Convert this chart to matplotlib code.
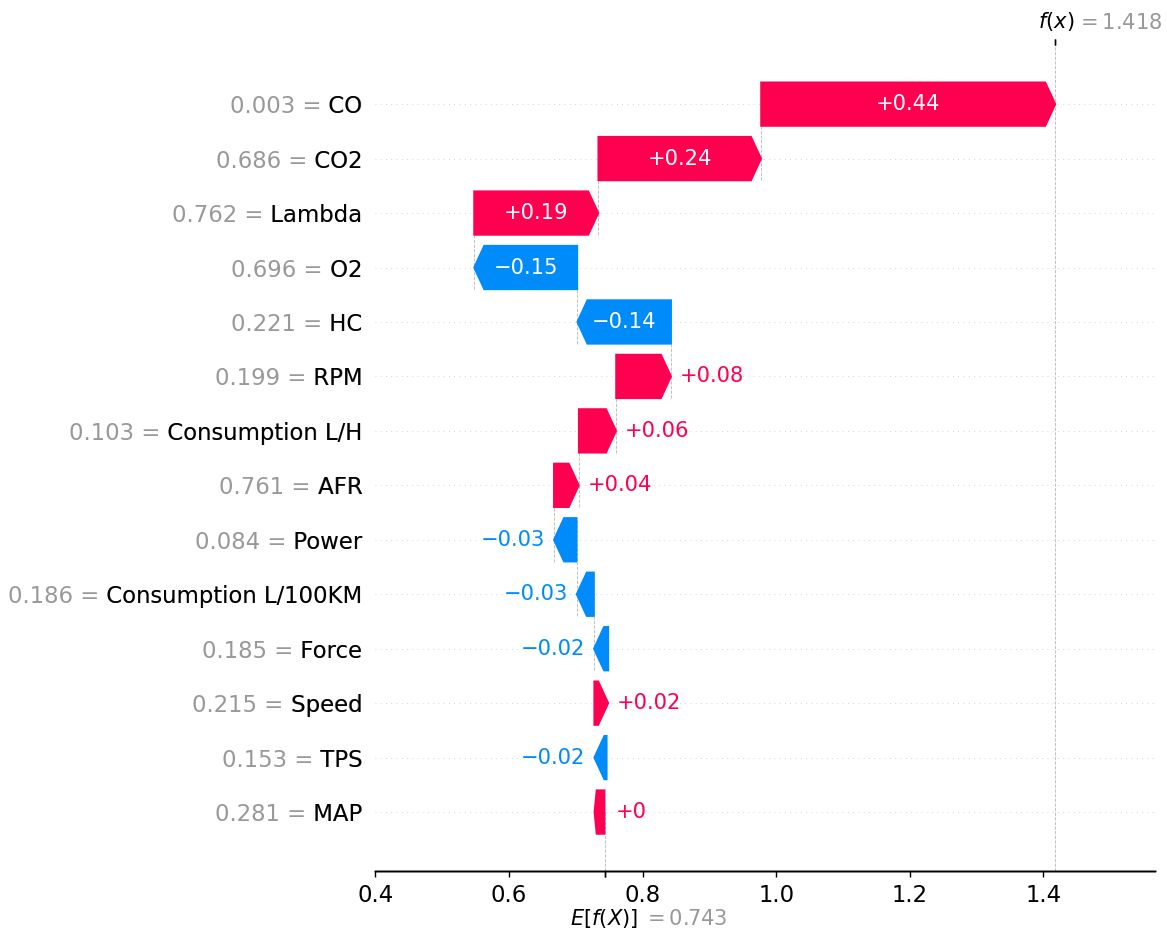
import re
import numpy as np
import matplotlib
matplotlib.use("Agg")
import matplotlib.pyplot as plt
import matplotlib.transforms as mtransforms

# Model explanation for a single engine sample
feature_names = ["CO", "CO2", "Lambda", "O2", "HC", "RPM", "Consumption L/H", "AFR",
                 "Power", "Consumption L/100KM", "Force", "Speed", "TPS", "MAP"]
feature_values = [0.003, 0.686, 0.762, 0.696, 0.221, 0.199, 0.103, 0.761,
                  0.084, 0.186, 0.185, 0.215, 0.153, 0.281]
contributions = [0.4406, 0.2437, 0.1860, -0.1545, -0.1404, 0.0823, 0.0558, 0.0373,
                 -0.0340, -0.0259, -0.0215, 0.0210, -0.0186, 0.0032]
base_value = 0.743

RED = (1.0, 0.0, 0.31796406)
BLUE = (0.0, 0.54337757, 0.98337906)


def format_value(s, fmt):
    s = fmt % s
    s = re.sub(r"\.?0+$", "", s)
    if s[0] == "-":
        s = "\u2212" + s[1:]
    return s


DPI = 126
fig = plt.figure(figsize=(1167 / DPI, 933 / DPI), dpi=DPI)
ax = fig.add_axes([0.3211, 0.066, 0.6684, 0.886])

values = np.array(contributions)
n = len(values)
order = np.argsort(-np.abs(values), kind="stable")
rng = list(range(n - 1, -1, -1))

pos_lefts, pos_inds, pos_widths = [], [], []
neg_lefts, neg_inds, neg_widths = [], [], []
fx = base_value + values.sum()
loc = fx
yticklabels = ["" for _ in range(n + 1)]

for i in range(n):
    sval = values[order[i]]
    loc -= sval
    if sval >= 0:
        pos_inds.append(rng[i])
        pos_widths.append(sval)
        pos_lefts.append(loc)
    else:
        neg_inds.append(rng[i])
        neg_widths.append(sval)
        neg_lefts.append(loc)
    if i + 4 < n:
        ax.plot([loc, loc], [rng[i] - 1 - 0.4, rng[i] + 0.4],
                color="#bbbbbb", linestyle="--", linewidth=0.5, zorder=-1)
    yticklabels[rng[i]] = (format_value(feature_values[order[i]], "%0.03f")
                           + " = " + feature_names[order[i]])

points = (pos_lefts + list(np.array(pos_lefts) + np.array(pos_widths))
          + neg_lefts + list(np.array(neg_lefts) + np.array(neg_widths)))
dataw = np.max(points) - np.min(points)

# invisible bars that size the axes
pad = np.array([0.1 * dataw if w < 1 else 0 for w in pos_widths])
ax.barh(pos_inds, np.array(pos_widths) + pad + 0.02 * dataw,
        left=np.array(pos_lefts) - 0.01 * dataw, color=RED, alpha=0)
pad = np.array([-0.1 * dataw if -w < 1 else 0 for w in neg_widths])
ax.barh(neg_inds, np.array(neg_widths) + pad - 0.02 * dataw,
        left=np.array(neg_lefts) + 0.01 * dataw, color=BLUE, alpha=0)

head_length = 0.08
bar_width = 0.8
xlen = ax.get_xlim()[1] - ax.get_xlim()[0]
bbox = ax.get_window_extent().transformed(fig.dpi_scale_trans.inverted())
bbox_to_xscale = xlen / bbox.width
hl_scaled = bbox_to_xscale * head_length
renderer = fig.canvas.get_renderer()

for i in range(len(pos_inds)):
    dist = pos_widths[i]
    arrow = ax.arrow(pos_lefts[i], pos_inds[i], dist - hl_scaled, 0,
                     head_length=min(dist, hl_scaled), color=RED,
                     width=bar_width, head_width=bar_width)
    txt = ax.text(pos_lefts[i] + 0.5 * dist, pos_inds[i], format_value(dist, "%+0.02f"),
                  ha="center", va="center", color="white", fontsize=12)
    if txt.get_window_extent(renderer=renderer).width > arrow.get_window_extent(renderer=renderer).width:
        txt.remove()
        ax.text(pos_lefts[i] + (5 / 72) * bbox_to_xscale + dist, pos_inds[i],
                format_value(dist, "%+0.02f"), ha="left", va="center",
                color=RED, fontsize=12)

for i in range(len(neg_inds)):
    dist = neg_widths[i]
    arrow = ax.arrow(neg_lefts[i], neg_inds[i], dist + hl_scaled, 0,
                     head_length=min(-dist, hl_scaled), color=BLUE,
                     width=bar_width, head_width=bar_width)
    txt = ax.text(neg_lefts[i] + 0.5 * dist, neg_inds[i], format_value(dist, "%+0.02f"),
                  ha="center", va="center", color="white", fontsize=12)
    if txt.get_window_extent(renderer=renderer).width > arrow.get_window_extent(renderer=renderer).width:
        txt.remove()
        ax.text(neg_lefts[i] - (5 / 72) * bbox_to_xscale + dist, neg_inds[i],
                format_value(dist, "%+0.02f"), ha="right", va="center",
                color=BLUE, fontsize=12)

# feature labels: gray "value = name", then the name again in black on top
ytick_pos = list(range(n)) + list(np.arange(n) + 1e-8)
ax.set_yticks(ytick_pos)
ax.set_yticklabels(yticklabels[:-1] + [lab.split("=")[-1] for lab in yticklabels[:-1]],
                   fontsize=13)

for i in range(n):
    ax.axhline(i, color="#cccccc", lw=0.5, dashes=(1, 5), zorder=-1)

ax.axvline(base_value, 0, 1 / n, color="#bbbbbb", linestyle="--", linewidth=0.5, zorder=-1)
ax.axvline(fx, 0, 1, color="#bbbbbb", linestyle="--", linewidth=0.5, zorder=-1)

ax.xaxis.set_ticks_position("bottom")
ax.yaxis.set_ticks_position("none")
for side in ("right", "top", "left"):
    ax.spines[side].set_visible(False)
ax.tick_params(labelsize=13)

xmin, xmax = ax.get_xlim()
ax2 = ax.twiny()
ax2.set_xlim(xmin, xmax)
ax2.set_xticks([base_value, base_value + 1e-8])
ax2.set_xticklabels(["\n$E[f(X)]$", "\n$ = " + format_value(base_value, "%0.03f") + "$"],
                    fontsize=12, ha="left")
for side in ("right", "top", "left"):
    ax2.spines[side].set_visible(False)

ax3 = ax2.twiny()
ax3.set_xlim(xmin, xmax)
ax3.set_xticks([fx, fx + 1e-8])
ax3.set_xticklabels(["$f(x)$", "$ = " + format_value(fx, "%0.03f") + "$"], fontsize=12, ha="left")
labs = ax3.xaxis.get_majorticklabels()
labs[0].set_transform(labs[0].get_transform()
                      + mtransforms.ScaledTranslation(-10 / 72., 0, fig.dpi_scale_trans))
labs[1].set_transform(labs[1].get_transform()
                      + mtransforms.ScaledTranslation(12 / 72., 0, fig.dpi_scale_trans))
labs[1].set_color("#999999")
for side in ("right", "top", "left"):
    ax3.spines[side].set_visible(False)

labs = ax2.xaxis.get_majorticklabels()
labs[0].set_transform(labs[0].get_transform()
                      + mtransforms.ScaledTranslation(-20 / 72., 0, fig.dpi_scale_trans))
labs[1].set_transform(labs[1].get_transform()
                      + mtransforms.ScaledTranslation(22 / 72., -1 / 72., fig.dpi_scale_trans))
labs[1].set_color("#999999")

labs = ax.yaxis.get_majorticklabels()
for i in range(n):
    labs[i].set_color("#999999")

fig.savefig("out.png", dpi=DPI)
